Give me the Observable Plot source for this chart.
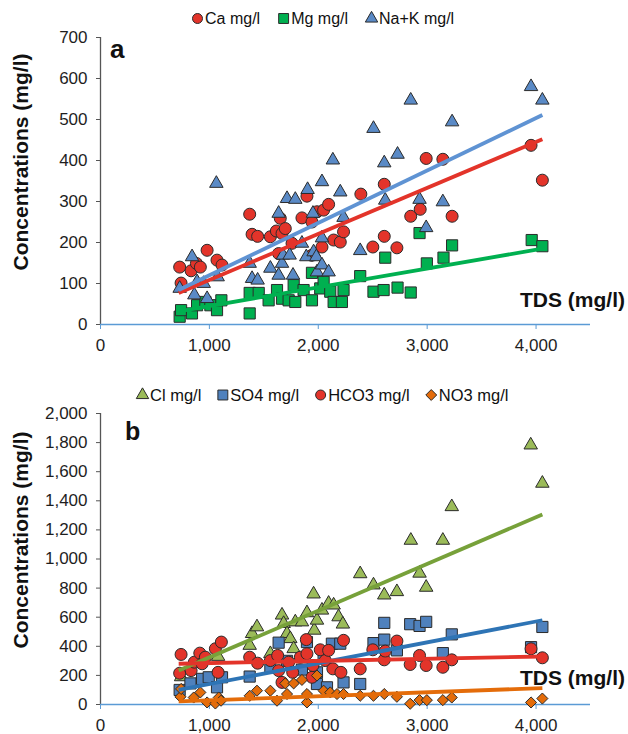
<!DOCTYPE html>
<html>
<head>
<meta charset="utf-8">
<script src="https://cdn.jsdelivr.net/npm/d3@7"></script>
<script src="https://cdn.jsdelivr.net/npm/@observablehq/plot@0.6"></script>
<style>
html,body{margin:0;padding:0;background:#fff;}
#wrap{position:relative;width:628px;height:734px;overflow:hidden;font-family:"Liberation Sans",Arial,Helvetica,sans-serif;}
#wrap > div.panel{position:absolute;left:0;}
#overlay{position:absolute;left:0;top:0;pointer-events:none;}
</style>
</head>
<body>
<div id="wrap">
  <div class="panel" id="pa" style="top:0px"></div>
  <div class="panel" id="pb" style="top:380px"></div>
  <svg id="overlay" width="628" height="734"></svg>
</div>
<script>
// ---------- tick values ----------
const xTicks = [0, 1000, 2000, 3000, 4000];
const yTicksA = [0, 100, 200, 300, 400, 500, 600, 700];
const yTicksB = [0, 200, 400, 600, 800, 1000, 1200, 1400, 1600, 1800, 2000];

// ---------- panel a: [TDS, concentration] ----------
const ca = [[727,140],[740,101],[832,131],[881,149],[917,140],[979,181],[1070,157],[1116,145],[1370,269],[1392,220],[1443,215],[1560,214],[1615,228],[1636,173],[1651,259],[1667,222],[1697,234],[1759,198],[1850,260],[1896,313],[1942,250],[1942,169],[1988,275],[2034,189],[2049,279],[2095,293],[2141,206],[2202,201],[2232,226],[2391,318],[2501,189],[2606,215],[2606,342],[2722,187],[2849,264],[2936,281],[2991,405],[3144,403],[3229,264],[3954,437],[4058,352]];
const mg = [[727,19],[740,35],[840,27],[887,47],[963,55],[1009,47],[1070,35],[1110,59],[1370,27],[1370,77],[1453,77],[1544,59],[1621,84],[1667,63],[1728,59],[1774,96],[1789,55],[1865,84],[1942,59],[1942,126],[2018,88],[2049,104],[2110,80],[2141,55],[2217,55],[2232,84],[2385,118],[2507,80],[2600,84],[2615,163],[2728,90],[2849,78],[2930,223],[2997,149],[3150,163],[3229,193],[3960,206],[4058,191]];
const naK = [[727,88],[841,165],[862,72],[887,104],[948,100],[979,63],[1076,116],[1064,344],[1370,149],[1392,112],[1443,108],[1560,137],[1636,120],[1636,271],[1667,149],[1676,169],[1713,307],[1737,169],[1768,120],[1789,305],[1850,198],[1890,165],[1902,329],[1951,271],[1957,177],[1982,165],[1988,128],[2034,211],[2034,348],[2034,145],[2095,128],[2134,401],[2202,323],[2232,261],[2385,180],[2507,478],[2606,394],[2615,303],[2728,415],[2849,547],[2930,305],[2991,236],[3144,299],[3229,494],[3954,580],[4058,547]];
// trend lines (values read at the ends of each fitted line)
const caTrend = [[718,77],[4058,452]];
const mgTrend = [[718,32],[4058,185]];
const naKTrend = [[718,84],[4058,511]];

// ---------- panel b: [TDS, concentration] ----------
const cl = [[740,190],[1080,330],[1370,406],[1392,487],[1437,533],[1560,349],[1667,614],[1682,556],[1713,487],[1743,452],[1774,383],[1789,567],[1850,567],[1896,630],[1957,759],[1963,510],[1988,579],[2034,648],[2095,695],[2141,683],[2186,602],[2226,552],[2385,898],[2507,821],[2606,752],[2722,775],[2850,1128],[2930,902],[2991,805],[3144,1128],[3226,1359],[3951,1783],[4058,1520]];
const so4 = [[727,100],[826,145],[933,176],[994,187],[1070,118],[1116,187],[1370,192],[1560,256],[1636,425],[1713,300],[1850,240],[1896,429],[1988,221],[1988,141],[2049,330],[2080,118],[2125,418],[2202,418],[2232,152],[2385,141],[2507,422],[2606,561],[2606,446],[2722,372],[2844,552],[2930,540],[2991,568],[3144,353],[3226,482],[3954,394],[4058,533]];
const hco3 = [[727,215],[740,344],[832,233],[862,291],[912,353],[933,280],[963,325],[1055,383],[1080,221],[1110,429],[1370,325],[1443,284],[1560,302],[1627,337],[1636,233],[1667,152],[1728,291],[1765,221],[1835,325],[1890,446],[1896,349],[1942,187],[1951,268],[2018,376],[2064,302],[2095,372],[2134,245],[2208,221],[2232,441],[2385,245],[2501,376],[2606,307],[2615,367],[2722,436],[2844,275],[2930,337],[2991,268],[3144,256],[3226,307],[3954,383],[4058,321]];
const no3 = [[734,53],[740,107],[856,48],[917,83],[979,14],[1055,7],[1086,48],[1107,26],[1370,60],[1437,95],[1560,95],[1621,26],[1697,145],[1713,72],[1774,145],[1850,169],[1896,14],[1896,72],[1988,199],[2049,95],[2110,83],[2172,72],[2232,72],[2385,60],[2507,60],[2606,72],[2722,53],[2844,5],[2930,30],[2997,30],[3144,30],[3226,48],[3954,14],[4058,41]];
const clTrend = [[718,233],[4058,1306]];
const so4Trend = [[718,100],[4058,579]];
const hco3Trend = [[718,280],[4058,330]];
const no3Trend = [[718,21],[4058,113]];

// ---------- legend labels ----------
const legendLabelsA = ["Ca mg/l", "Mg mg/l", "Na+K mg/l"];
const legendLabelsB = ["Cl mg/l", "SO4 mg/l", "HCO3 mg/l", "NO3 mg/l"];
const axisTitleY = "Concentrations (mg/l)";
const axisTitleX = "TDS (mg/l)";

// ---------- styles ----------
const ff = '"Liberation Sans", Arial, Helvetica, sans-serif';
const C = {
  red: "#e3342a", green: "#00b050", blue: "#5a8ac6",
  clFill: "#9bbb59", so4Fill: "#4f81bd", no3Fill: "#e46c0a",
  naKLine: "#5f93d3", clLine: "#77a13a", so4Line: "#2e74b5",
  edge: "#2b2b2b", axisBlue: "#5b9bd5", axisGray: "#555555", text: "#1e1e1e"
};
const R = {circle: 6, square: 6.3, triangle: 5, diamond2: 5};
const X = d => d[0], Y = d => d[1];

function panel(height, marginTop, marginBottom, yDomain, yTicks, layers) {
  return Plot.plot({
    width: 628, height, marginTop, marginBottom, marginLeft: 100, marginRight: 38,
    style: {fontFamily: ff, fontSize: "17px", color: C.text, background: "transparent", overflow: "visible"},
    x: {domain: [0, 4500]},
    y: {domain: yDomain},
    marks: [
      Plot.axisX({ticks: xTicks, tickFormat: d3.format(","), tickSize: 5, tickPadding: 9, stroke: C.axisBlue, fill: C.text, label: null, fontSize: 17}),
      Plot.axisY({ticks: yTicks, tickFormat: d3.format(","), tickSize: 4, tickPadding: 9, stroke: C.axisGray, fill: C.text, label: null, fontSize: 17}),
      Plot.ruleX([0], {stroke: C.axisGray, strokeWidth: 1.3}),
      Plot.ruleY([0], {stroke: C.axisBlue, strokeWidth: 1.5}),
      ...layers
    ]
  });
}

const dot = (data, symbol, fill) => Plot.dot(data, {x: X, y: Y, symbol, r: R[symbol], fill, stroke: C.edge, strokeWidth: 1});
const trend = (data, stroke) => Plot.line(data, {x: X, y: Y, stroke, strokeWidth: 3.8, strokeLinecap: "butt"});

document.getElementById("pa").appendChild(panel(367, 37, 43, [0, 700], yTicksA, [
  dot(ca, "circle", C.red),
  dot(mg, "square", C.green),
  dot(naK, "triangle", C.blue),
  trend(caTrend, C.red),
  trend(mgTrend, C.green),
  trend(naKTrend, C.naKLine)
]));

document.getElementById("pb").appendChild(panel(354, 33, 30, [0, 2000], yTicksB, [
  dot(cl, "triangle", C.clFill),
  dot(so4, "square", C.so4Fill),
  dot(hco3, "circle", C.red),
  dot(no3, "diamond2", C.no3Fill),
  trend(clTrend, C.clLine),
  trend(so4Trend, C.so4Line),
  trend(hco3Trend, C.red),
  trend(no3Trend, C.no3Fill)
]));

// ---------- overlay texts & legends ----------
const ov = d3.select("#overlay").style("font-family", ff);
function txt(x, y, s, size, weight, anchor, transform) {
  const t = ov.append("text").attr("x", x).attr("y", y).text(s)
    .attr("font-size", size).attr("font-weight", weight || "normal")
    .attr("text-anchor", anchor || "start").attr("fill", "#111");
  if (transform) t.attr("transform", transform);
  return t;
}
txt(110, 58, "a", 26, "bold");
txt(125, 440, "b", 25, "bold");
txt(625, 307, axisTitleX, 21, "bold", "end");
txt(625, 685, axisTitleX, 21, "bold", "end");
txt(0, 0, axisTitleY, 21, "bold", "middle", "translate(28,162) rotate(-90)");
txt(0, 0, axisTitleY, 21, "bold", "middle", "translate(28,540) rotate(-90)");

const symMap = {circle: [d3.symbolCircle, 5], square: [d3.symbolSquare, 5.6], triangle: [d3.symbolTriangle, 4.6], diamond2: [d3.symbolDiamond2, 4.9]};
function legend(x0, cy, size, items, gap) {
  let x = x0;
  items.forEach(([label, sym, fill]) => {
    const [type, r] = symMap[sym];
    ov.append("path").attr("d", d3.symbol(type, Math.PI * r * r)())
      .attr("transform", `translate(${x + 5.5},${cy})`)
      .attr("fill", fill).attr("stroke", C.edge).attr("stroke-width", 1);
    const t = txt(x + 13, cy + size * 0.36, label, size);
    x += 13 + t.node().getComputedTextLength() + gap;
  });
}
legend(192, 18.5, 16, [
  [legendLabelsA[0], "circle", C.red],
  [legendLabelsA[1], "square", C.green],
  [legendLabelsA[2], "triangle", C.blue]
], 18);
legend(137, 395, 16.5, [
  [legendLabelsB[0], "triangle", C.clFill],
  [legendLabelsB[1], "square", C.so4Fill],
  [legendLabelsB[2], "circle", C.red],
  [legendLabelsB[3], "diamond2", C.no3Fill]
], 16);
</script>
</body>
</html>
